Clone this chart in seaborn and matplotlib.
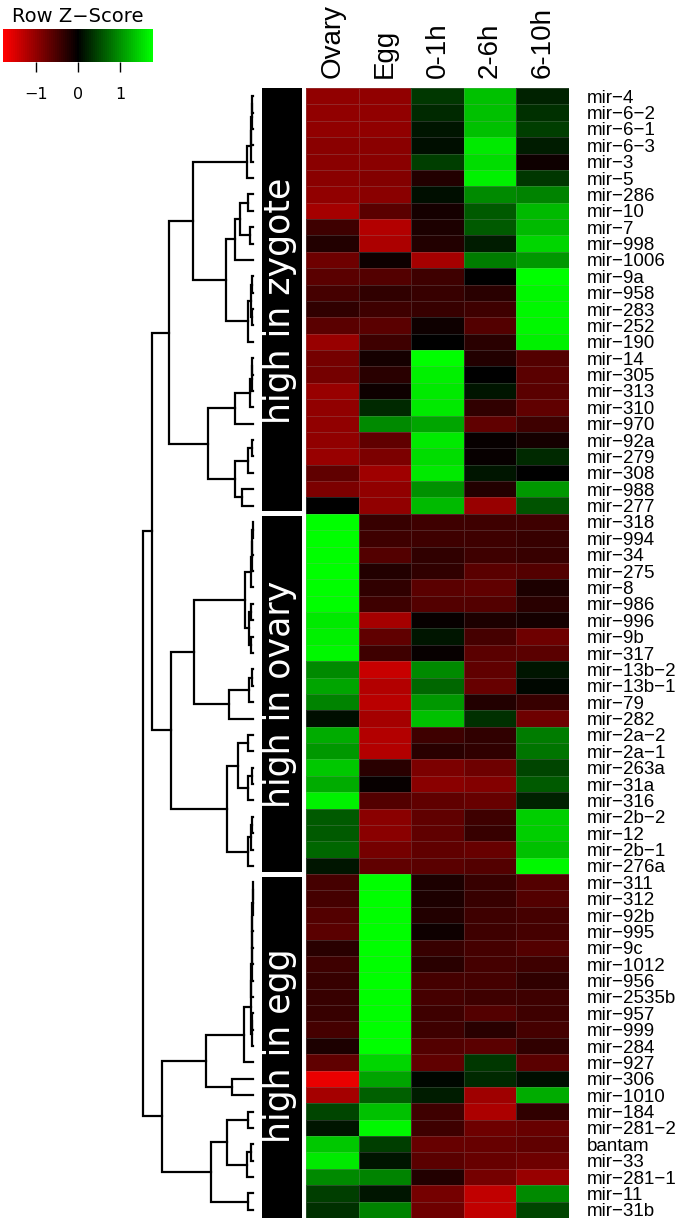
import numpy as np
import pandas as pd
import matplotlib
matplotlib.use("Agg")
import matplotlib.pyplot as plt
from matplotlib.colors import LinearSegmentedColormap
import seaborn as sns

# row order as shown (top to bottom)
mirnas = ['mir-4', 'mir-6-2', 'mir-6-1', 'mir-6-3', 'mir-3', 'mir-5', 'mir-286', 'mir-10', 'mir-7',
          'mir-998', 'mir-1006', 'mir-9a', 'mir-958', 'mir-283', 'mir-252', 'mir-190', 'mir-14',
          'mir-305', 'mir-313', 'mir-310', 'mir-970', 'mir-92a', 'mir-279', 'mir-308', 'mir-988',
          'mir-277',
          'mir-318', 'mir-994', 'mir-34', 'mir-275', 'mir-8', 'mir-986', 'mir-996', 'mir-9b',
          'mir-317', 'mir-13b-2', 'mir-13b-1', 'mir-79', 'mir-282', 'mir-2a-2', 'mir-2a-1',
          'mir-263a', 'mir-31a', 'mir-316', 'mir-2b-2', 'mir-12', 'mir-2b-1', 'mir-276a',
          'mir-311', 'mir-312', 'mir-92b', 'mir-995', 'mir-9c', 'mir-1012', 'mir-956', 'mir-2535b',
          'mir-957', 'mir-999', 'mir-284', 'mir-927', 'mir-306', 'mir-1010', 'mir-184', 'mir-281-2',
          'bantam', 'mir-33', 'mir-281-1', 'mir-11', 'mir-31b']

samples = ['Ovary', 'Egg', '0-1h', '2-6h', '6-10h']

# row z-scores per sample
ovary = [-1.0, -1.0, -1.0, -0.95, -0.95, -0.95, -1.0, -1.15, -0.45, -0.25, -0.75,
         -0.6, -0.5, -0.35, -0.6, -1.05,
         -0.8, -0.8, -1.05, -1.0, -1.0, -1.0, -1.05, -0.65, -0.85, 0.0,
         1.75, 1.75, 1.75, 1.75, 1.75, 1.75, 1.6, 1.65, 1.7, 0.95, 1.15, 0.9, 0.1,
         1.2, 1.05, 1.4, 1.2, 1.65, 0.6, 0.6, 0.7, 0.15,
         -0.5, -0.5, -0.55, -0.6, -0.3, -0.45, -0.4, -0.4, -0.4, -0.5, -0.2,
         -0.65, -1.6, -1.15, 0.5, 0.15, 1.4, 1.6, 0.95, 0.45, 0.35]
egg = [-1.0, -1.0, -1.0, -0.95, -0.95, -0.9, -0.95, -0.6, -1.25, -1.2, -0.1,
       -0.55, -0.35, -0.45, -0.6, -0.45,
       -0.15, -0.3, -0.1, 0.3, 0.95, -0.65, -0.85, -1.1, -1.0, -1.0,
       -0.4, -0.45, -0.55, -0.25, -0.35, -0.45, -1.15, -0.65, -0.45, -1.4, -1.25, -1.3, -1.15,
       -1.25, -1.25, -0.3, -0.05, -0.55, -0.95, -0.95, -0.8, -0.65,
       1.75, 1.75, 1.75, 1.75, 1.75, 1.75, 1.75, 1.75, 1.75, 1.75, 1.75,
       1.5, 1.15, 0.65, 1.35, 1.7, 0.45, 0.15, 0.9, 0.15, 0.9]
h0_1 = [0.4, 0.3, 0.15, 0.1, 0.45, -0.25, 0.1, -0.15, -0.2, -0.25, -1.15,
        -0.45, -0.4, -0.4, -0.1, 0.0,
        1.75, 1.65, 1.6, 1.6, 1.15, 1.6, 1.55, 1.6, 1.0, 1.3,
        -0.45, -0.45, -0.35, -0.35, -0.6, -0.55, -0.05, 0.15, -0.05, 0.95, 0.7, 1.05, 1.35,
        -0.45, -0.3, -0.85, -0.95, -0.65, -0.65, -0.65, -0.65, -0.6,
        -0.2, -0.2, -0.25, -0.1, -0.4, -0.3, -0.5, -0.5, -0.45, -0.45, -0.55,
        -0.65, 0.05, 0.2, -0.45, -0.45, -0.7, -0.6, -0.25, -0.8, -0.75]
h2_6 = [1.35, 1.35, 1.35, 1.6, 1.55, 1.65, 0.95, 0.6, 0.6, 0.2, 0.85,
        0.0, -0.3, -0.45, -0.55, -0.3,
        -0.25, 0.0, 0.15, -0.35, -0.65, -0.05, -0.05, 0.15, -0.25, -1.05,
        -0.45, -0.45, -0.45, -0.6, -0.65, -0.55, -0.2, -0.5, -0.6, -0.65, -0.7, -0.25, 0.35,
        -0.35, -0.35, -0.75, -0.9, -0.7, -0.45, -0.4, -0.7, -0.55,
        -0.4, -0.4, -0.45, -0.45, -0.5, -0.5, -0.5, -0.45, -0.55, -0.3, -0.6,
        0.4, 0.3, -1.1, -1.2, -0.75, -0.7, -0.7, -0.8, -1.35, -1.35]
h6_10 = [0.25, 0.35, 0.45, 0.2, -0.1, 0.4, 0.9, 1.3, 1.3, 1.5, 1.05,
         1.75, 1.7, 1.7, 1.7, 1.65,
         -0.55, -0.6, -0.6, -0.65, -0.45, -0.15, 0.3, 0.0, 1.05, 0.55,
         -0.45, -0.4, -0.4, -0.55, -0.2, -0.3, -0.15, -0.75, -0.6, 0.15, 0.05, -0.4, -0.75,
         0.85, 0.8, 0.5, 0.6, 0.25, 1.45, 1.45, 1.35, 1.7,
         -0.55, -0.55, -0.5, -0.5, -0.55, -0.45, -0.35, -0.45, -0.45, -0.5, -0.35,
         -0.6, 0.1, 1.2, -0.35, -0.7, -0.65, -0.75, -1.05, 0.95, 0.5]

group_names = ['high in zygote', 'high in ovary', 'high in egg']
group_sizes = [26, 22, 21]

# row dendrogram as a linkage table: ids < 69 are rows, id 69 + k is merge k
merge_left = [0, 69, 70, 71, 72, 6, 8, 74, 76, 11, 13, 78, 80, 77, 73,
              16, 84, 85, 86, 21, 88, 24, 89, 87, 83,
              26, 94, 95, 96, 31, 33, 98, 97, 35, 102, 103, 101,
              39, 41, 107, 106, 44, 110, 111, 109, 105, 93,
              48, 116, 117, 118, 119, 120, 121, 56, 123, 122, 125, 60, 126,
              62, 64, 130, 129, 67, 132, 128, 115]
merge_right = [1, 2, 3, 4, 5, 7, 9, 75, 10, 12, 14, 79, 15, 81, 82,
               17, 18, 19, 20, 22, 23, 25, 90, 91, 92,
               27, 28, 29, 30, 32, 34, 99, 100, 36, 37, 38, 104,
               40, 42, 43, 108, 45, 46, 47, 112, 113, 114,
               49, 50, 51, 52, 53, 54, 55, 57, 58, 124, 59, 61, 127,
               63, 65, 66, 131, 68, 133, 134, 135]
merge_height = [0.7, 1.2, 1.6, 2.2, 6.3, 4.7, 3.0, 13.0, 18.0, 1.0, 1.0, 2.0, 5.5, 27.3, 60.0,
                0.8, 1.5, 3.0, 18.0, 1.5, 5.0, 11.0, 18.0, 45.0, 84.0,
                0.4, 0.8, 1.2, 1.8, 2.0, 2.5, 4.0, 8.0, 1.5, 4.0, 24.0, 58.7,
                4.7, 1.5, 5.0, 15.0, 1.0, 2.0, 5.0, 25.7, 82.0, 101.0,
                0.3, 0.5, 0.7, 0.9, 1.1, 1.3, 1.6, 0.8, 1.5, 2.5, 9.5, 20.7, 47.3,
                4.7, 2.0, 6.0, 26.3, 5.0, 42.0, 91.0, 110.0]

df = pd.DataFrame({'Ovary': ovary, 'Egg': egg, '0-1h': h0_1, '2-6h': h2_6, '6-10h': h6_10},
                  index=mirnas)[samples]
n = len(df)

redgreen = LinearSegmentedColormap.from_list('redgreen', ['#FF0000', '#000000', '#00FF00'], N=75)
zmax = 1.79

W, H = 681, 1221


def box(x0, y0, x1, y1):
    # pixel box (top-left origin) -> figure fraction
    return [x0 / W, 1 - y1 / H, (x1 - x0) / W, (y1 - y0) / H]


fig = plt.figure(figsize=(W / 100, H / 100), dpi=100)
ax_heat = fig.add_axes(box(306, 88, 569, 1218))
ax_side = fig.add_axes(box(262, 88, 302, 1218))
ax_tree = fig.add_axes(box(143, 88, 253, 1218))
ax_key = fig.add_axes(box(3, 29, 153, 62))

sns.heatmap(df, ax=ax_heat, cmap=redgreen, vmin=-zmax, vmax=zmax, yticklabels=True,
            linewidths=0.4, linecolor=(0.6, 0.6, 0.6, 0.25),
            cbar_ax=ax_key, cbar_kws={'orientation': 'horizontal', 'ticks': [-1, 0, 1]})
ax_heat.xaxis.tick_top()
ax_heat.set_xticklabels(samples, rotation=90, fontsize=20, fontfamily='Liberation Sans')
ax_heat.yaxis.tick_right()
ax_heat.set_yticklabels([m.replace('-', '\u2212') for m in mirnas], rotation=0, fontsize=13.5,
                        fontfamily='Liberation Sans')
ax_heat.tick_params(axis='y', length=0, pad=13)
ax_heat.tick_params(axis='x', length=0, pad=7)
ax_heat.set_xlabel('')
ax_heat.set_ylabel('')

# colour key
ax_key.xaxis.set_ticks_position('bottom')
ax_key.tick_params(axis='x', direction='out', length=7, width=1, labelsize=11.5, pad=11)
ax_key.set_title('Row Z\u2212Score', fontsize=14, pad=5)

# dendrogram
node_pos = list(np.arange(n) + 0.5)
node_h = [0.0] * n
for a, b, h in zip(merge_left, merge_right, merge_height):
    ax_tree.plot([node_h[a], h, h, node_h[b]], [node_pos[a], node_pos[a], node_pos[b], node_pos[b]],
                 color='black', lw=1.6, solid_joinstyle='miter', clip_on=False)
    node_pos.append((node_pos[a] + node_pos[b]) / 2)
    node_h.append(h)
ax_tree.set_xlim(max(merge_height), 0)
ax_tree.set_ylim(n, 0)
ax_tree.axis('off')

# group side bars
starts = np.cumsum([0] + group_sizes[:-1])
gap = 0.3
for i, (s, c, name) in enumerate(zip(starts, group_sizes, group_names)):
    top = s + (gap / 2 if i > 0 else 0)
    bottom = s + c - (gap / 2 if i < len(group_sizes) - 1 else 0)
    ax_side.barh((top + bottom) / 2, 1, height=bottom - top, left=0, color='black')
    ax_side.text(0.45, s + c / 2, name, rotation=90, color='white', ha='center', va='center',
                 fontsize=25)
ax_side.set_xlim(0, 1)
ax_side.set_ylim(n, 0)
ax_side.axis('off')

fig.savefig('out.png', dpi=100)
